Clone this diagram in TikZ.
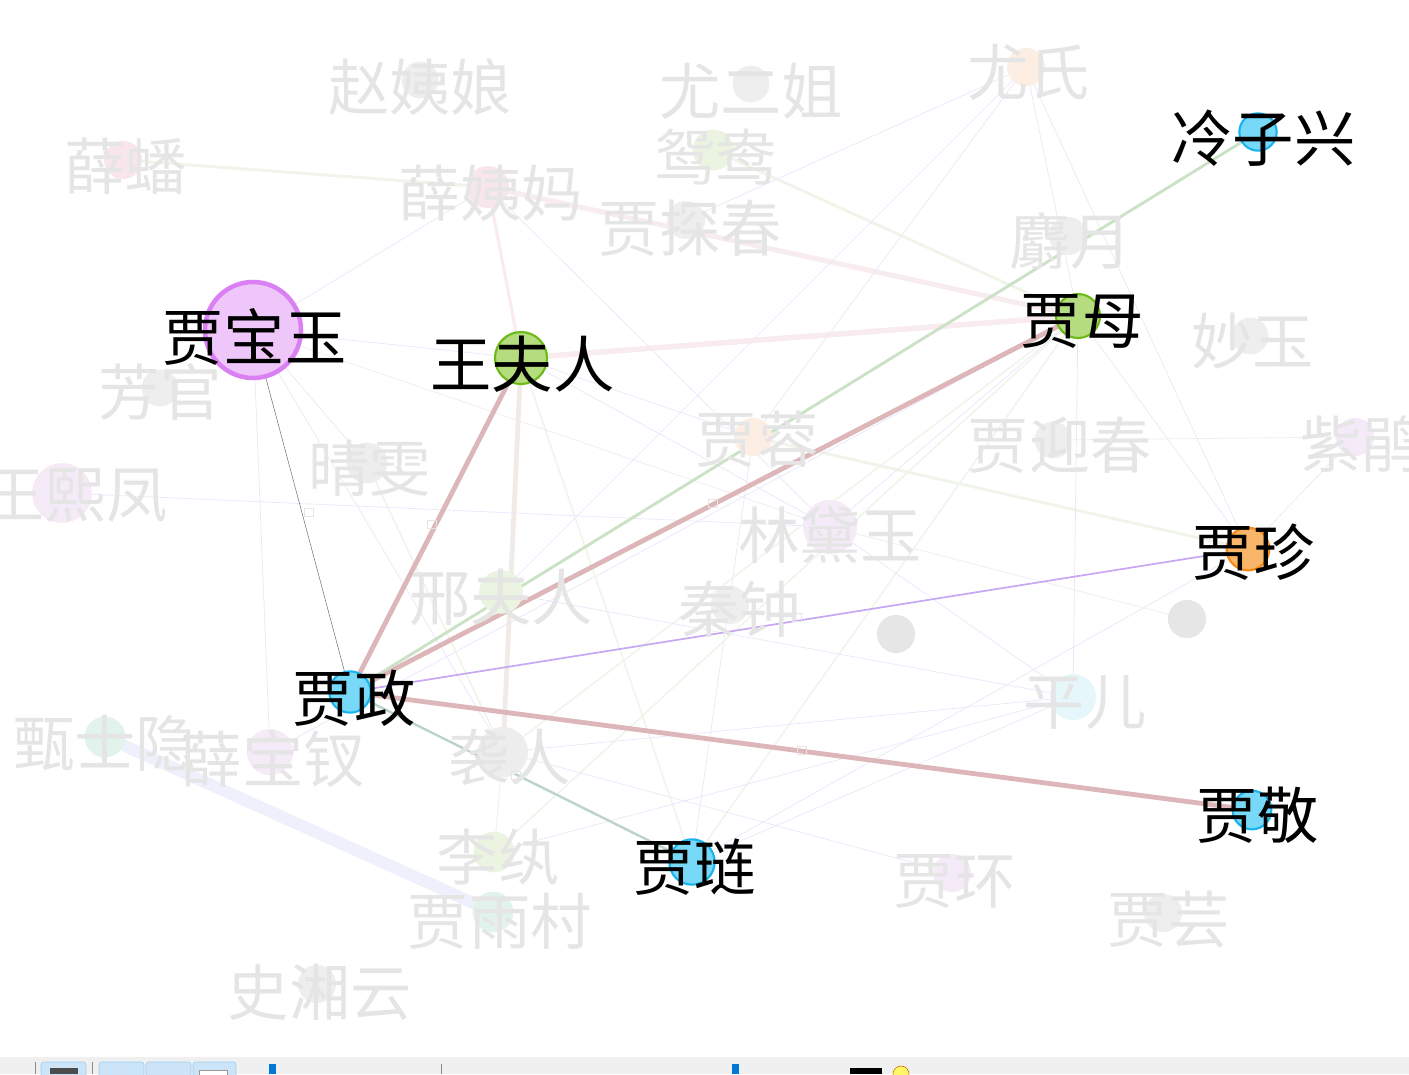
\documentclass[tikz,border=0pt]{standalone}
\usepackage{fontspec}
\newfontfamily\cjk{Noto Sans CJK SC}
\definecolor{hubblue}{RGB}{120,216,247}
\definecolor{hubblueline}{RGB}{24,180,238}
\definecolor{leafgreen}{RGB}{182,220,128}
\definecolor{leafgreenline}{RGB}{108,186,22}
\definecolor{jewel}{RGB}{238,198,250}
\definecolor{jewelline}{RGB}{218,128,242}
\definecolor{amber}{RGB}{249,182,104}
\definecolor{amberline}{RGB}{248,138,20}
\definecolor{roseedge}{RGB}{220,182,184}
\definecolor{sageedge}{RGB}{204,226,198}
\definecolor{lilacedge}{RGB}{200,168,242}
\definecolor{tealedge}{RGB}{186,212,202}
\definecolor{fadetxt}{RGB}{229,229,229}
\definecolor{fadegray}{RGB}{238,238,238}
\definecolor{fadepink}{RGB}{249,230,237}
\definecolor{fadegreen}{RGB}{234,244,224}
\definecolor{fadepeach}{RGB}{252,238,226}
\definecolor{fadelilac}{RGB}{245,235,248}
\definecolor{fadecyan}{RGB}{230,247,252}
\definecolor{fademint}{RGB}{226,243,236}
\definecolor{solidgray}{RGB}{230,230,230}
\definecolor{fpink}{RGB}{248,236,238}
\definecolor{fbeige}{RGB}{241,235,231}
\definecolor{fgreen}{RGB}{240,245,234}
\definecolor{flav}{RGB}{236,232,251}
\definecolor{fgray}{RGB}{238,238,238}
\definecolor{fblue}{RGB}{238,240,251}
\definecolor{barbg}{RGB}{240,240,240}
\definecolor{btnfill}{RGB}{204,228,247}
\definecolor{btnline}{RGB}{153,204,240}
\definecolor{barblue}{RGB}{0,120,215}
\begin{document}
\begin{tikzpicture}[x=0.75pt,y=0.75pt,yscale=-1,xscale=1,
    pick/.style={circle,inner sep=0pt,line width=1.6pt},
    dim/.style={circle,inner sep=0pt,line width=0.6pt},
    tag/.style={font=\cjk\fontsize{46}{46}\selectfont,inner sep=0pt,text=black},
    dimtag/.style={tag,text=fadetxt},
    tiny/.style={rectangle,draw=fadetxt,inner sep=0pt,minimum width=7pt,minimum height=6pt},
    thinlink/.style={flav,line width=0.6pt}]
\useasboundingbox (0,0) rectangle (1409,1074);
\clip (0,0) rectangle (1409,1074);

%Coordinates: highlighted
\coordinate (jby) at (253,330);
\coordinate (wfr) at (521,358);
\coordinate (jm) at (1078,316);
\coordinate (lzx) at (1258,132);
\coordinate (jzh) at (1248,549);
\coordinate (jj) at (1252,810);
\coordinate (jl) at (692,862);
\coordinate (jz) at (350,692);
%Coordinates: faded
\coordinate (zyn) at (420,80);
\coordinate (yej) at (751,84);
\coordinate (ys) at (1026,67);
\coordinate (xp) at (123,160);
\coordinate (xym) at (488,187);
\coordinate (yy) at (713,150);
\coordinate (jtc) at (686,220);
\coordinate (sy) at (1068,236);
\coordinate (my) at (1250,336);
\coordinate (fg) at (160,388);
\coordinate (qw) at (367,463);
\coordinate (jr) at (753,437);
\coordinate (jyc) at (1053,440);
\coordinate (zj) at (1355,437);
\coordinate (wxf) at (62,493);
\coordinate (ldy) at (830,527);
\coordinate (xfr) at (501,592);
\coordinate (qz) at (730,605);
\coordinate (nA) at (896,634);
\coordinate (nB) at (1187,619);
\coordinate (pe) at (1073,697);
\coordinate (zsy) at (105,737);
\coordinate (xbc) at (270,752);
\coordinate (xr) at (503,752);
\coordinate (lw) at (494,852);
\coordinate (jyu) at (493,912);
\coordinate (jh) at (952,873);
\coordinate (jy) at (1163,913);
\coordinate (sxy) at (317,984);

%Faded edges
\draw [fblue,line width=9pt] (zsy) -- (jyu);
\draw [fpink,line width=3.8pt] (xym) -- (jm);
\draw [fpink,line width=4.2pt] (wfr) -- (jm);
\draw [fpink,line width=2.4pt] (xym) -- (wfr);
\draw [fbeige,line width=3.6pt] (wfr) -- (xr);
\draw [fgreen,line width=2.2pt] (xp) -- (xym);
\draw [fgreen,line width=2.2pt] (yy) -- (jm);
\draw [fgreen,line width=2.2pt] (jr) -- (jzh);
\draw [fgreen,line width=1.2pt] (jm) -- (xr);
\draw [fgreen,line width=1.2pt] (jm) -- (lw);
\draw [fgreen,line width=1.2pt] (jm) -- (jl);
\draw [fgreen,line width=1.2pt] (wfr) -- (jl);
\draw [fgreen,line width=1.2pt] (qw) -- (xr);
\draw [thinlink] (ys) -- (jzh);
\draw [thinlink] (ys) -- (jm);
\draw [thinlink] (ys) -- (jr);
\draw [thinlink] (ys) -- (xfr);
\draw [thinlink] (ys) -- (jtc);
\draw [thinlink] (jm) -- (pe);
\draw [thinlink] (jm) -- (jzh);
\draw [thinlink] (jm) -- (ldy);
\draw [thinlink] (jm) -- (xbc);
\draw [thinlink] (pe) -- (xr);
\draw [thinlink] (pe) -- (jl);
\draw [thinlink] (pe) -- (ldy);
\draw [thinlink] (pe) -- (xfr);
\draw [thinlink] (jzh) -- (jl);
\draw [thinlink] (jzh) -- (zj);
\draw [fgray,line width=0.6pt] (ldy) -- (nB);
\draw [fgray,line width=0.6pt] (jyc) -- (zj);
\draw [thinlink] (jby) -- (xym);
\draw [thinlink] (jby) -- (wfr);
\draw [fgray,line width=0.6pt] (jby) -- (ldy);
\draw [thinlink] (jby) -- (xr);
\draw [thinlink] (jby) -- (xbc);
\draw [thinlink] (jby) -- (qw);
\draw [thinlink] (wxf) -- (ldy);
\draw [thinlink] (xym) -- (ldy);
\draw [thinlink] (wfr) -- (jr);
\draw [thinlink] (jr) -- (jl);
\draw [thinlink] (xr) -- (jh);
\draw [fgray,line width=0.6pt] (xr) -- (lw);
\draw [thinlink] (lw) -- (pe);
\draw [thinlink] (wfr) -- (ldy);

%Highlighted edges
\draw [roseedge,line width=3.6pt] (jz) -- (wfr);
\draw [roseedge,line width=3.6pt] (jz) -- (jm);
\draw [roseedge,line width=3.6pt] (jz) -- (jj);
\draw [sageedge,line width=2.2pt] (jz) -- (lzx);
\draw [lilacedge,line width=1.3pt] (jz) -- (jzh);
\draw [tealedge,line width=1.8pt] (jz) -- (jl);
\draw [black!55,line width=0.4pt] (jz) -- (jby);

%Faded nodes
\node [dim,fill=fadegray,draw=fadegray,minimum size=27pt] (zyndot) at (zyn) {};
\node [dim,fill=fadegray,draw=fadegray,minimum size=27pt] (yejdot) at (yej) {};
\node [dim,fill=fadepeach,draw=fadepeach,minimum size=28pt] (ysdot) at (ys) {};
\node [dim,fill=fadepink,draw=fadepink,minimum size=28pt] (xpdot) at (xp) {};
\node [dim,fill=fadepink,draw=fadepink,minimum size=31pt] (xymdot) at (xym) {};
\node [dim,fill=fadegreen,draw=fadegreen,minimum size=30pt] (yydot) at (yy) {};
\node [dim,fill=fadegray,draw=fadegray,minimum size=28pt] (jtcdot) at (jtc) {};
\node [dim,fill=fadegray,draw=fadegray,minimum size=28pt] (sydot) at (sy) {};
\node [dim,fill=fadegray,draw=fadegray,minimum size=27pt] (mydot) at (my) {};
\node [dim,fill=fadegray,draw=fadegray,minimum size=27pt] (fgdot) at (fg) {};
\node [dim,fill=solidgray!70!white,draw=solidgray!70!white,minimum size=30pt] (qwdot) at (qw) {};
\node [dim,fill=fadepeach,draw=fadepeach,minimum size=28pt] (jrdot) at (jr) {};
\node [dim,fill=fadegray,draw=fadegray,minimum size=27pt] (jycdot) at (jyc) {};
\node [dim,fill=fadelilac,draw=fadelilac,minimum size=28pt] (zjdot) at (zj) {};
\node [dim,fill=fadelilac,draw=fadepink,minimum size=44pt] (wxfdot) at (wxf) {};
\node [dim,fill=fadelilac,draw=fadelilac,minimum size=40pt] (ldydot) at (ldy) {};
\node [dim,fill=fadegreen,draw=fadegreen,minimum size=32pt] (xfrdot) at (xfr) {};
\node [dim,fill=fadegray,draw=fadegray,minimum size=28pt] (qzdot) at (qz) {};
\node [dim,fill=solidgray,draw=solidgray,minimum size=28pt] (nAdot) at (nA) {};
\node [dim,fill=solidgray,draw=solidgray,minimum size=28pt] (nBdot) at (nB) {};
\node [dim,fill=fadecyan,draw=fadecyan,minimum size=34pt] (pedot) at (pe) {};
\node [dim,fill=fademint,draw=fademint,minimum size=30pt] (zsydot) at (zsy) {};
\node [dim,fill=fadelilac,draw=fadelilac,minimum size=34pt] (xbcdot) at (xbc) {};
\node [dim,fill=solidgray!70!white,draw=solidgray!70!white,minimum size=37pt] (xrdot) at (xr) {};
\node [dim,fill=fadegreen,draw=fadegreen,minimum size=30pt] (lwdot) at (lw) {};
\node [dim,fill=fademint,draw=fademint,minimum size=30pt] (jyudot) at (jyu) {};
\node [dim,fill=fadelilac,draw=fadelilac,minimum size=28pt] (jhdot) at (jh) {};
\node [dim,fill=fadegray,draw=fadegray,minimum size=28pt] (jydot) at (jy) {};
\node [dim,fill=fadegray,draw=fadegray,minimum size=28pt] (sxydot) at (sxy) {};

% Faded Text Nodes
\node [dimtag] (zyntag) at ([yshift=5pt]zyn) {赵姨娘};
\node [dimtag] (yejtag) at ([yshift=5pt]yej) {尤二姐};
\node [dimtag] (ystag) at ([xshift=2pt,yshift=4pt]ys) {尤氏};
\node [dimtag] (xptag) at ([xshift=2pt,yshift=5pt]xp) {薛蟠};
\node [dimtag] (xymtag) at ([xshift=2pt,yshift=5pt]xym) {薛姨妈};
\node [dimtag] (yytag) at ([xshift=2pt,yshift=5pt]yy) {鸳鸯};
\node [dimtag] (jtctag) at ([xshift=3pt,yshift=6pt]jtc) {贾探春};
\node [dimtag] (sytag) at ([xshift=2pt,yshift=4pt]sy) {麝月};
\node [dimtag] (mytag) at ([xshift=2pt,yshift=4pt]my) {妙玉};
\node [dimtag] (fgtag) at ([yshift=3pt]fg) {芳官};
\node [dimtag] (qwtag) at ([xshift=2pt,yshift=4pt]qw) {晴雯};
\node [dimtag] (jrtag) at ([xshift=3pt,yshift=2pt]jr) {贾蓉};
\node [dimtag] (jyctag) at ([xshift=5pt,yshift=4pt]jyc) {贾迎春};
\node [dimtag] (zjtag) at ([xshift=5pt,yshift=5pt]zj) {紫鹃};
\node [dimtag] (wxftag) at ([xshift=10pt,yshift=2pt]wxf) {王熙凤};
\node [dimtag] (ldytag) at ([yshift=6pt]ldy) {林黛玉};
\node [dimtag] (xfrtag) at ([yshift=4pt]xfr) {邢夫人};
\node [dimtag] (qztag) at ([xshift=7pt,yshift=3pt]qz) {秦钟};
\node [dimtag] (petag) at ([xshift=9pt,yshift=4pt]pe) {平儿};
\node [dimtag] (zsytag) at ([yshift=5pt]zsy) {甄士隐};
\node [dimtag] (xbctag) at ([xshift=2pt,yshift=5pt]xbc) {薛宝钗};
\node [dimtag] (xrtag) at ([xshift=5pt,yshift=4pt]xr) {袭人};
\node [dimtag] (lwtag) at ([xshift=3pt,yshift=4pt]lw) {李纨};
\node [dimtag] (jyutag) at ([xshift=5pt,yshift=7pt]jyu) {贾雨村};
\node [dimtag] (jhtag) at ([xshift=2pt,yshift=6pt]jh) {贾环};
\node [dimtag] (jytag) at ([xshift=4pt,yshift=5pt]jy) {贾芸};
\node [dimtag] (sxytag) at ([xshift=2pt,yshift=6pt]sxy) {史湘云};
%Shape: small squares
\node [tiny] (sqA) at (309,512) {};
\node [tiny] (sqB) at (432,524) {};
\node [tiny] (sqC) at (713,503) {};
\node [tiny] (sqD) at (797,617) {};
\node [tiny] (sqE) at (802,750) {};
\node [tiny] (sqF) at (516,775) {};

%Highlighted nodes
\node [pick,fill=jewel,draw=jewelline,line width=3.4pt,minimum size=72pt] (jbydot) at (jby) {};
\node [pick,fill=leafgreen,draw=leafgreenline,minimum size=39pt] (wfrdot) at (wfr) {};
\node [pick,fill=leafgreen,draw=leafgreenline,minimum size=33pt] (jmdot) at (jm) {};
\node [pick,fill=hubblue,draw=hubblueline,minimum size=28pt] (lzxdot) at (lzx) {};
\node [pick,fill=amber,draw=amberline,minimum size=32pt] (jzhdot) at (jzh) {};
\node [pick,fill=hubblue,draw=hubblueline,minimum size=29pt] (jjdot) at (jj) {};
\node [pick,fill=hubblue,draw=hubblueline,minimum size=34pt] (jldot) at (jl) {};
\node [pick,fill=hubblue,draw=hubblueline,minimum size=31pt] (jzdot) at (jz) {};

% Text Node
\node [tag] (jbytag) at ([xshift=1pt,yshift=5pt]jby) {贾宝玉};
\node [tag] (wfrtag) at ([xshift=1pt,yshift=5pt]wfr) {王夫人};
\node [tag] (jmtag) at ([xshift=3pt,yshift=4pt]jm) {贾母};
\node [tag] (lzxtag) at ([xshift=4pt,yshift=5pt]lzx) {冷子兴};
\node [tag] (jzhtag) at ([xshift=4pt,yshift=2pt]jzh) {贾珍};
\node [tag] (jjtag) at ([xshift=4pt,yshift=4pt]jj) {贾敬};
\node [tag] (jltag) at ([xshift=2pt,yshift=4pt]jl) {贾琏};
\node [tag] (jztag) at ([xshift=3pt,yshift=5pt]jz) {贾政};

%Shape: bottom bar
\fill [barbg] (0,1057) rectangle (1409,1074);
\draw [black!45,line width=0.6pt] (35,1062) -- (35,1074);
\draw [btnline,fill=btnfill,rounded corners=2pt] (41,1062) rectangle (86,1080);
\fill [black!70] (50,1068) rectangle (78,1074);
\draw [btnline,fill=btnfill,rounded corners=2pt] (99,1062) rectangle (144,1080);
\draw [btnline,fill=btnfill,rounded corners=2pt] (146,1062) rectangle (191,1080);
\draw [btnline,fill=btnfill,rounded corners=2pt] (193,1062) rectangle (236,1080);
\draw [black!40,fill=white] (199,1070) rectangle (227,1080);
\draw [black!45,line width=0.6pt] (92,1062) -- (92,1074);
\fill [barblue] (269,1064) rectangle (276,1074);
\draw [black!45,line width=0.6pt] (441,1064) -- (441,1074);
\fill [barblue] (732,1064) rectangle (739,1074);
\fill [black] (850,1068) rectangle (882,1074);
\draw [orange!80!black,fill=yellow!60] (901,1074) circle (8);
\end{tikzpicture}
\end{document}
